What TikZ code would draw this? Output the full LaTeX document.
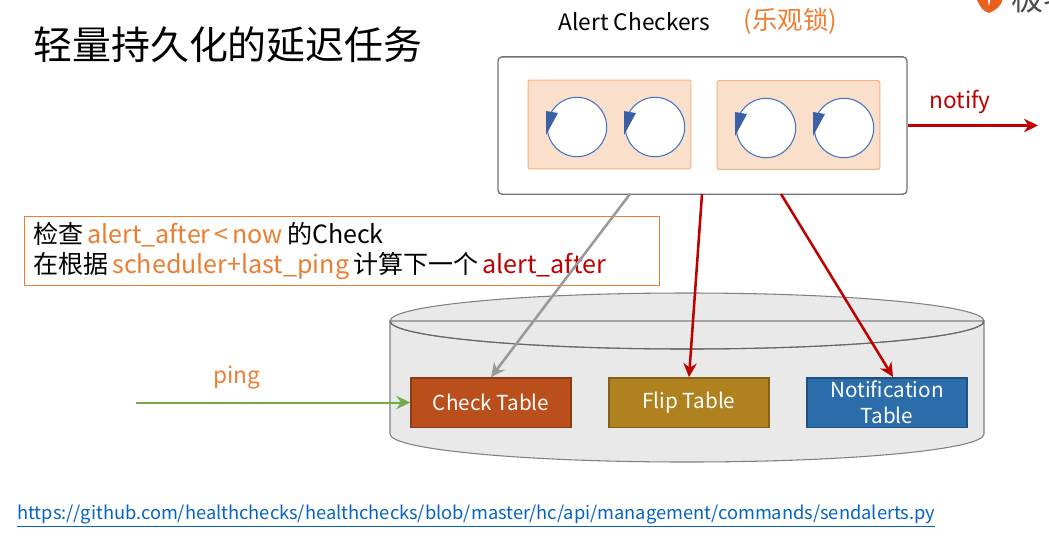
\documentclass[tikz,border=0pt]{standalone}
\usepackage{fontspec}
\setmainfont{Noto Sans CJK SC}
\usetikzlibrary{arrows.meta,positioning,calc}
\definecolor{cheng}{HTML}{ED7D31}
\definecolor{hong}{HTML}{C00000}
\definecolor{lan}{HTML}{4472C4}
\definecolor{lvse}{HTML}{70AD47}
\definecolor{pan}{HTML}{E9E9E9}
\definecolor{zhe}{HTML}{BB4F1C}
\definecolor{jin}{HTML}{B0821F}
\definecolor{shui}{HTML}{2B6CAB}
\definecolor{lianjie}{HTML}{0563C1}
\definecolor{biao}{HTML}{E8601C}
\newcommand{\spintip}[1]{\fill[lan!85!black] ($(#1)+(-31,-16)$) -- ($(#1)+(-19,-14)$) -- ($(#1)+(-31,8)$) -- cycle;}
\begin{document}
\begin{tikzpicture}[x=0.75pt, y=-0.75pt, >={Stealth[length=10.5pt,width=10pt]}, font=\fontsize{17pt}{22pt}\selectfont,
  group/.style={draw=cheng!60, fill=cheng!25, rounded corners=1pt, line width=0.8pt, minimum width=122pt, minimum height=66.5pt, inner sep=0pt},
  spin/.style={circle, draw=lan, fill=white, line width=0.8pt, minimum size=44.5pt, inner sep=0pt},
  tbl/.style={draw=#1!75!black, fill=#1, line width=1pt, text=white, align=center, minimum width=120pt, minimum height=37pt, inner sep=0pt, font=\fontsize{15.5pt}{19.5pt}\selectfont},
  conn/.style={->, line width=1.9pt}]
  \useasboundingbox (0,0) rectangle (1049,547);
  \node[anchor=west, inner sep=0pt, font=\fontsize{29.2pt}{34pt}\selectfont] (title) at (33,45) {轻量持久化的延迟任务};
  % logo cut off by the page edge
  \begin{scope}
    \clip (0,0) rectangle (1049,547);
    \fill[biao] (975,-4) -- (1003,-4) .. controls (1003,5) and (996,10) .. (989,13) .. controls (982,10) .. (975,-4) -- cycle;
    \fill[white] (987,-4) -- (991,-4) -- (989,6) -- cycle;
    \node[anchor=west, inner sep=0pt, text=black!70, font=\fontsize{24pt}{24pt}\selectfont] (logo) at (1011,-2) {极客};
  \end{scope}
  \node[anchor=center] (head) at (634.5,22) {Alert Checkers};
  \node[anchor=center, text=cheng, font=\fontsize{19pt}{22pt}\selectfont] (lock) at (790.5,21) {(乐观锁)};
  % checkers
  \node[draw=black!55, fill=white, rounded corners=3pt, line width=1pt, minimum width=306.75pt, minimum height=103pt, inner sep=0pt] (chk) at (702.5,125.5) {};
  \node[group] (g1) at (609.5,124.5) {};
  \node[group] (g2) at (798.5,125) {};
  \node[spin] (c1) at (577,127) {};
  \node[spin] (c2) at (655,127) {};
  \node[spin] (c3) at (766,128) {};
  \node[spin] (c4) at (844,128) {};
  \spintip{c1} \spintip{c2} \spintip{c3} \spintip{c4}
  % disk
  \draw[draw=black!50, fill=pan, line width=0.8pt] (390,321) -- (390,434) arc[start angle=180, end angle=360, x radius=297, y radius=-28] -- (984,321) arc[start angle=0, end angle=360, x radius=297, y radius=-28] -- cycle;
  \draw[draw=black!60, line width=0.8pt] (390,321) arc[start angle=180, end angle=360, x radius=297, y radius=-28];
  \node[tbl=zhe] (check) at (491,402.5) {Check Table};
  \node[tbl=jin] (flip) at (689,402.5) {Flip Table};
  \node[tbl=shui] (note) at (887,402.5) {Notification\\Table};
  % note
  \node[draw=cheng, fill=white, line width=0.9pt, anchor=north west, align=left, inner sep=0pt, text width=463pt, minimum height=51.5pt, inner xsep=6.5pt, font=\fontsize{18.8pt}{22.5pt}\selectfont] (memo) at (24,216) {\spaceskip=3pt 检查 \textcolor{cheng}{alert\_after < now} 的Check\\在根据 \textcolor{cheng}{scheduler+last\_ping} 计算下一个 \textcolor{hong}{alert\_after}};
  % links
  \coordinate (a1) at (630,194);
  \coordinate (a2) at (702,194);
  \coordinate (a3) at (781,194);
  \coordinate (n3) at (893,377);
  \coordinate (out) at (1038,125.5);
  \coordinate (in) at (136,402.5);
  \draw[conn, black!40] (a1) -- (check.north);
  \draw[conn, hong] (a2) -- (flip.north);
  \draw[conn, hong] (a3) -- (n3);
  \draw[conn, hong] (chk.east) -- (out);
  \draw[conn, lvse, line width=1.5pt] (in) -- (check.west);
  \node[text=hong] (notify) at (960,102) {notify};
  \node[text=cheng] (ping) at (237,378) {ping};
  \node[anchor=west, text=lianjie, font=\fontsize{13.7pt}{18pt}\selectfont, inner sep=0pt] (url) at (17,516) {\underline{https://github.com/healthchecks/healthchecks/blob/master/hc/api/management/commands/sendalerts.py}};
\end{tikzpicture}
\end{document}
